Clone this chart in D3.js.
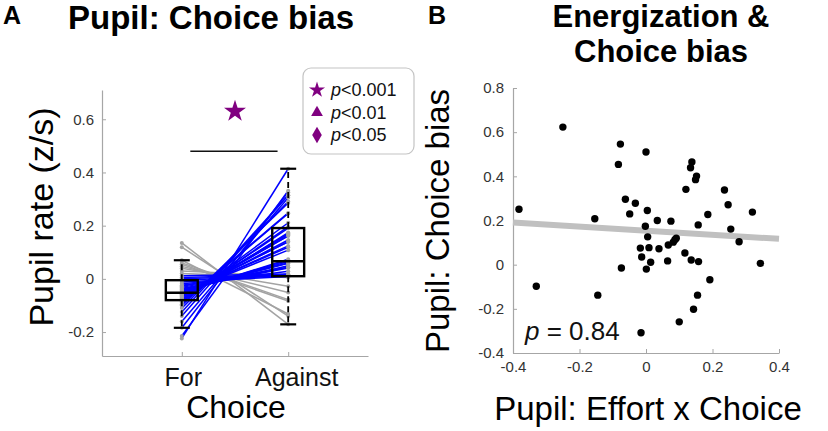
<!DOCTYPE html>
<html><head><meta charset="utf-8">
<script src="https://cdn.jsdelivr.net/npm/d3@7"></script>
<style>
html,body{margin:0;padding:0;background:#fff;}
svg{display:block;font-family:"Liberation Sans",Arial,Helvetica,sans-serif;}
</style></head>
<body>
<svg id="chart" width="828" height="431"></svg>
<script>
// ---------------- DATA ----------------
const categories = ["For", "Against"];
// Panel A: pupil rate per subject for each choice
const forVals = [-0.224,-0.215,-0.184,-0.16,-0.14,-0.125,-0.11,-0.10,-0.095,-0.09,-0.085,-0.082,-0.08,-0.077,-0.074,-0.07,-0.068,-0.065,-0.062,-0.06,-0.058,-0.056,-0.055,-0.053,-0.052,-0.05,-0.048,-0.045,-0.042,-0.04,-0.036,-0.032,-0.028,-0.024,-0.018,-0.012,-0.005,0.0,0.005,0.012,0.02,0.03,0.04,0.047,0.055,0.06,0.07,0.119,0.135];
const againstVals = [0.414,0.331,0.326,0.305,0.314,0.314,0.291,0.285,0.246,0.248,0.211,0.196,0.191,0.174,0.171,0.168,0.162,0.162,0.146,0.14,0.139,0.124,0.119,0.108,0.074,0.07,0.065,0.059,0.06,0.049,0.041,0.043,0.044,0.029,0.017,0.009,0.012,0.014,0.016,0.018,0.005,0.01,-0.028,-0.051,-0.083,-0.078,-0.132,-0.14,-0.171];
// box-plot statistics [For, Against]
const boxQ1 = [-0.08, 0.01];
const boxMedian = [-0.052, 0.066];
const boxQ3 = [-0.005, 0.191];
const whiskerLo = [-0.184, -0.171];
const whiskerHi = [0.07, 0.414];
const yTicksA = [-0.2, 0, 0.2, 0.4, 0.6];
const sigStarValue = 0.63;
const sigBarValue = 0.48;
const legendLabels = ["<0.001", "<0.01", "<0.05"];
// Panel B: scatter
const effortX = [-0.382,-0.33,-0.25,-0.154,-0.145,-0.077,-0.083,-0.074,-0.062,-0.049,-0.032,0.0,0.004,-0.002,0.005,-0.017,-0.013,0.001,0.009,0.014,0.034,0.039,0.065,0.067,0.075,0.082,0.087,0.091,0.100,0.117,0.120,0.138,0.134,0.152,0.149,0.136,0.143,0.155,0.158,0.157,0.186,0.192,0.236,0.247,0.255,0.280,0.320,0.344,-0.015];
const biasY = [0.251,-0.098,0.623,0.208,-0.138,0.546,0.454,-0.015,0.296,0.230,0.278,0.510,0.245,0.174,0.126,0.075,0.035,-0.020,0.077,0.011,0.200,0.072,0.017,0.089,0.197,0.102,0.113,0.120,-0.259,0.053,0.341,0.465,0.439,0.401,0.385,0.021,-0.202,-0.138,0.014,0.180,0.227,-0.068,0.338,0.271,0.161,0.104,0.238,0.006,-0.308];
const fitX = [-0.4, 0.4];
const fitY = [0.191, 0.117];
const xTicksB = [-0.4, -0.2, 0, 0.2, 0.4];
const yTicksB = [-0.4, -0.2, 0, 0.2, 0.4, 0.6, 0.8];
const pValueText = "0.84";

// ---------------- DRAW ----------------
const svg = d3.select("#chart");
const fmt = v => String(+v.toFixed(2));
const axisCol = "#a6a6a6", tickTextCol = "#333";
const purple = "#800080";

function styleAxis(g) {
  g.select(".domain").attr("stroke", axisCol).attr("stroke-width", 1.2);
  g.selectAll(".tick line").attr("stroke", axisCol).attr("stroke-width", 1);
  g.selectAll(".tick text").attr("fill", tickTextCol).attr("font-family", "Liberation Sans, Arial, sans-serif");
}

// ===== Panel A =====
const xA = d3.scaleLinear().domain([0.25, 2.75]).range([102, 368]);
const yA = d3.scaleLinear().domain([-0.29, 0.71]).range([356, 90]);

svg.append("g").attr("transform", `translate(0,${yA.range()[0]})`)
  .call(d3.axisBottom(xA).tickValues([1, 2]).tickFormat(d => categories[d - 1]).tickSize(-4).tickSizeOuter(0).tickPadding(12))
  .call(styleAxis)
  .call(g => g.selectAll(".tick text").attr("font-size", 25).attr("fill", "#111").attr("dy", "0.71em")
    .attr("dx", (d, i) => i === 1 ? 8 : 1));

svg.append("g").attr("transform", `translate(${xA.range()[0]},0)`)
  .call(d3.axisLeft(yA).tickValues(yTicksA).tickFormat(fmt).tickSize(-4).tickSizeOuter(0).tickPadding(8))
  .call(styleAxis)
  .call(g => g.selectAll(".tick text").attr("font-size", 15));

const pairs = forVals.map((f, i) => ({ f, a: againstVals[i] }));
const lineG = svg.append("g");
// grey (decrease) first, blue (increase) on top
const ordered = pairs.filter(p => p.a < p.f).concat(pairs.filter(p => p.a >= p.f));
lineG.selectAll("line").data(ordered).join("line")
  .attr("x1", xA(1)).attr("x2", xA(2))
  .attr("y1", d => yA(d.f)).attr("y2", d => yA(d.a))
  .attr("stroke", d => d.a >= d.f ? "#0000ff" : "#a3a3a3")
  .attr("stroke-width", 1.5);
const dotG = svg.append("g");
dotG.selectAll("circle.f").data(pairs).join("circle").attr("class", "f")
  .attr("cx", xA(1)).attr("cy", d => yA(d.f)).attr("r", 2).attr("fill", "#a3a3a3");
dotG.selectAll("circle.a").data(pairs).join("circle").attr("class", "a")
  .attr("cx", xA(2)).attr("cy", d => yA(d.a)).attr("r", 2).attr("fill", "#a3a3a3");

// box plots
const boxG = svg.append("g");
categories.forEach((c, i) => {
  const cx = xA(i + 1);
  const hw = (xA(1.15) - xA(1));
  const cw = (xA(1.075) - xA(1));
  const g = boxG.append("g");
  g.append("line").attr("x1", cx).attr("x2", cx).attr("y1", yA(boxQ3[i])).attr("y2", yA(whiskerHi[i]))
    .attr("stroke", "#000").attr("stroke-width", 1.8).attr("stroke-dasharray", "6,4");
  g.append("line").attr("x1", cx).attr("x2", cx).attr("y1", yA(boxQ1[i])).attr("y2", yA(whiskerLo[i]))
    .attr("stroke", "#000").attr("stroke-width", 1.8).attr("stroke-dasharray", "6,4");
  [whiskerHi[i], whiskerLo[i]].forEach(v => g.append("line").attr("x1", cx - cw).attr("x2", cx + cw)
    .attr("y1", yA(v)).attr("y2", yA(v)).attr("stroke", "#000").attr("stroke-width", 2.2));
  g.append("rect").attr("x", cx - hw).attr("width", 2 * hw)
    .attr("y", yA(boxQ3[i])).attr("height", yA(boxQ1[i]) - yA(boxQ3[i]))
    .attr("fill", "none").attr("stroke", "#000").attr("stroke-width", 2.4);
  g.append("line").attr("x1", cx - hw).attr("x2", cx + hw).attr("y1", yA(boxMedian[i])).attr("y2", yA(boxMedian[i]))
    .attr("stroke", "#000").attr("stroke-width", 2.4);
});

// significance bar + star
svg.append("line").attr("x1", xA(1.08)).attr("x2", xA(1.9)).attr("y1", yA(sigBarValue)).attr("y2", yA(sigBarValue))
  .attr("stroke", "#111").attr("stroke-width", 1.6);
svg.append("path").attr("d", d3.symbol(d3.symbolStar, 150)())
  .attr("transform", `translate(${xA(1.5)},${yA(sigStarValue)})`).attr("fill", purple);

// legend
const leg = svg.append("g");
leg.append("rect").attr("x", 303).attr("y", 68).attr("width", 111).attr("height", 86).attr("rx", 8)
  .attr("fill", "#fff").attr("stroke", "#c4c4c4").attr("stroke-width", 1.2);
const legSyms = [d3.symbolStar, d3.symbolTriangle, d3.symbolDiamond];
const legSizes = [80, 60, 80];
legendLabels.forEach((lab, i) => {
  const cy = 90 + i * 22.5;
  leg.append("path").attr("d", d3.symbol(legSyms[i], legSizes[i])())
    .attr("transform", `translate(317,${cy})`).attr("fill", purple);
  const t = leg.append("text").attr("x", 331).attr("y", cy + 6).attr("font-size", 18).attr("fill", "#111");
  t.append("tspan").attr("font-style", "italic").text("p");
  t.append("tspan").text(lab);
});

// labels A
svg.append("text").attr("x", 3).attr("y", 24).attr("font-size", 25).attr("font-weight", "bold").text("A");
svg.append("text").attr("x", 68).attr("y", 29).attr("font-size", 33).attr("font-weight", "bold").text("Pupil: Choice bias");
svg.append("text").attr("transform", "translate(53,217) rotate(-90)").attr("text-anchor", "middle")
  .attr("font-size", 34).text("Pupil rate (z/s)");
svg.append("text").attr("x", 236).attr("y", 418).attr("text-anchor", "middle").attr("font-size", 32).text("Choice");

// ===== Panel B =====
const xB = d3.scaleLinear().domain([-0.4, 0.4]).range([513, 779]);
const yB = d3.scaleLinear().domain([-0.4, 0.8]).range([353, 88]);

svg.append("g").attr("transform", `translate(0,${yB.range()[0]})`)
  .call(d3.axisBottom(xB).tickValues(xTicksB).tickFormat(fmt).tickSize(-4).tickSizeOuter(0).tickPadding(8))
  .call(styleAxis)
  .call(g => g.selectAll(".tick text").attr("font-size", 15));
svg.append("g").attr("transform", `translate(${xB.range()[0]},0)`)
  .call(d3.axisLeft(yB).tickValues(yTicksB).tickFormat(fmt).tickSize(-4).tickSizeOuter(0).tickPadding(9))
  .call(styleAxis)
  .call(g => g.selectAll(".tick text").attr("font-size", 15));

svg.append("line").attr("x1", xB(fitX[0])).attr("x2", xB(fitX[1]))
  .attr("y1", yB(fitY[0])).attr("y2", yB(fitY[1]))
  .attr("stroke", "#c0c0c0").attr("stroke-width", 6);

svg.append("g").selectAll("circle").data(effortX.map((x, i) => ({ x, y: biasY[i] }))).join("circle")
  .attr("cx", d => xB(d.x)).attr("cy", d => yB(d.y)).attr("r", 3.7).attr("fill", "#000");

const pt = svg.append("text").attr("x", 525).attr("y", 340).attr("font-size", 26).attr("fill", "#111");
pt.append("tspan").attr("font-style", "italic").text("p");
pt.append("tspan").text(" = " + pValueText);

svg.append("text").attr("x", 428).attr("y", 24).attr("font-size", 25).attr("font-weight", "bold").text("B");
svg.append("text").attr("x", 661).attr("y", 27).attr("text-anchor", "middle").attr("font-size", 31).attr("font-weight", "bold").text("Energization &");
svg.append("text").attr("x", 661).attr("y", 62).attr("text-anchor", "middle").attr("font-size", 31).attr("font-weight", "bold").text("Choice bias");
svg.append("text").attr("transform", "translate(449,221) rotate(-90)").attr("text-anchor", "middle")
  .attr("font-size", 33).text("Pupil: Choice bias");
svg.append("text").attr("x", 648).attr("y", 420).attr("text-anchor", "middle").attr("font-size", 33).text("Pupil: Effort x Choice");
</script>
</body></html>
